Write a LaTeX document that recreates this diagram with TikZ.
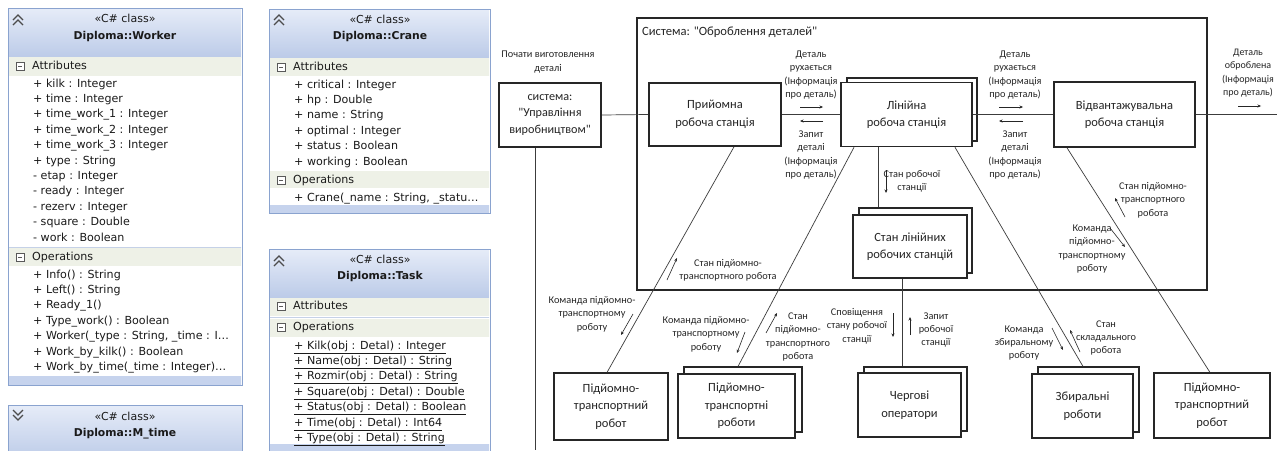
\documentclass[tikz,border=0pt]{standalone}
\usepackage{fontspec}
\setmainfont{DejaVu Sans}
\newfontfamily\dfont{Carlito}
\usetikzlibrary{arrows.meta}
\definecolor{hdrtop}{HTML}{E6ECF8}
\definecolor{hdrbot}{HTML}{BCCBE8}
\definecolor{umlborder}{HTML}{8AA3CF}
\definecolor{secrow}{HTML}{EEF1E7}
\definecolor{umlstrip}{HTML}{C6D3ED}
\definecolor{umltext}{HTML}{1A1A1A}
\definecolor{ink}{HTML}{262626}
\tikzset{
  umltxt/.style={anchor=west, inner sep=0pt, font=\fontsize{11.1}{13}\selectfont, text=umltext, text height=8pt, text depth=2pt},
  umlstereo/.style={inner sep=0pt, font=\fontsize{11}{13}\selectfont, text=umltext},
  umlname/.style={inner sep=0pt, font=\bfseries\fontsize{10.8}{13}\selectfont, text=umltext},
  umlframe/.style={draw=umlborder, line width=1pt},
  chev/.style={draw=gray!60!black, line width=1.2pt},
  minusbox/.style={draw=gray!70!black, line width=0.6pt, fill=white},
  dbox/.style={draw=ink, line width=1.6pt, fill=white, inner sep=2pt, align=center, font=\dfont\fontsize{12.5}{17.5}\selectfont, text=ink},
  dlab/.style={inner sep=0pt, align=center, font=\dfont\fontsize{10.3}{13.3}\selectfont, text=ink},
  conn/.style={draw=ink!90, line width=0.7pt},
  sarr/.style={-{Stealth[length=3.5pt,width=3pt]}, line width=0.6pt, draw=ink}
}
\begin{document}
\begin{tikzpicture}[x=1pt,y=-1pt]
\useasboundingbox (0,0) rectangle (1277,450);
\fill[white] (0,0) rectangle (1277,450);

% ================= Worker =================
\begin{scope}
\clip (8,8) rectangle (241,385);
\shade[top color=hdrtop,bottom color=hdrbot] (8,8) rectangle (242,57);
\fill[secrow] (8,57) rectangle (242,76);
\fill[secrow] (8,248) rectangle (242,266);
\fill[umlstrip] (8,376) rectangle (242,385);
\draw[umlborder!50] (8,247.5) -- (242,247.5);
\draw[chev] (13,20) -- (18,15) -- (23,20) (13,25) -- (18,20) -- (23,25);
\node[umlstereo] (wst) at (125,18) {«C\# class»};
\node[umlname] (wnm) at (125,37) {Diploma::Worker};
\draw[minusbox] (16,62) rectangle (24,70); \draw[gray!70!black] (18,66) -- (22,66);
\node[umltxt] (wah) at (32,66) {Attributes};
\foreach \t [count=\i] in {+ kilk : Integer, + time : Integer, + time\_work\_1 : Integer, + time\_work\_2 : Integer, + time\_work\_3 : Integer, + type : String, - etap : Integer, - ready : Integer, - rezerv : Integer, - square : Double, - work : Boolean}
  {\node[umltxt] (wa\i) at (33,{84+(\i-1)*15.4}) {\t};}
\draw[minusbox] (16,253) rectangle (24,261); \draw[gray!70!black] (18,257) -- (22,257);
\node[umltxt] (woh) at (32,257) {Operations};
\foreach \t [count=\i] in {+ Info() : String, + Left() : String, + Ready\_1(), + Type\_work() : Boolean, {+ Worker(\_type : String, \_time : I…}, + Work\_by\_kilk() : Boolean, {+ Work\_by\_time(\_time : Integer)…}}
  {\node[umltxt] (wo\i) at (33,{275+(\i-1)*15.4}) {\t};}
\end{scope}
\draw[umlframe] (8,8) rectangle (242,385);

% ================= M_time =================
\shade[top color=hdrtop,bottom color=hdrbot] (8,405) rectangle (242,460);
\draw[umlframe] (8,460) -- (8,405) -- (242,405) -- (242,460);
\draw[chev] (13,410) -- (18,415) -- (23,410) (13,415) -- (18,420) -- (23,415);
\node[umlstereo] (mst) at (125,416) {«C\# class»};
\node[umlname] (mnm) at (125,434) {Diploma::M\_time};

% ================= Crane =================
\begin{scope}
\clip (269,9) rectangle (489,213);
\shade[top color=hdrtop,bottom color=hdrbot] (269,9) rectangle (490,57);
\fill[secrow] (269,58) rectangle (490,76);
\fill[secrow] (269,171) rectangle (490,188);
\fill[umlstrip] (269,205) rectangle (490,213);
\draw[chev] (274,20) -- (279,15) -- (284,20) (274,25) -- (279,20) -- (284,25);
\node[umlstereo] (cst) at (380,19) {«C\# class»};
\node[umlname] (cnm) at (380,37) {Diploma::Crane};
\draw[minusbox] (277,63) rectangle (285,71); \draw[gray!70!black] (279,67) -- (283,67);
\node[umltxt] (cah) at (293,67) {Attributes};
\foreach \t [count=\i] in {+ critical : Integer, + hp : Double, + name : String, + optimal : Integer, + status : Boolean, + working : Boolean}
  {\node[umltxt] (ca\i) at (294,{85+(\i-1)*15.4}) {\t};}
\draw[minusbox] (277,176) rectangle (285,184); \draw[gray!70!black] (279,180) -- (283,180);
\node[umltxt] (coh) at (293,180) {Operations};
\node[umltxt] (co1) at (294,198) {+ Crane(\_name : String, \_statu…};
\end{scope}
\draw[umlframe] (269,9) rectangle (490,213);

% ================= Task =================
\begin{scope}
\clip (269,249) rectangle (489,460);
\shade[top color=hdrtop,bottom color=hdrbot] (269,249) rectangle (490,297);
\fill[secrow] (269,298) rectangle (490,316);
\fill[secrow] (269,319) rectangle (490,337);
\fill[umlstrip] (269,444) rectangle (490,460);
\draw[umlborder!50] (269,317.5) -- (490,317.5);
\draw[chev] (274,261) -- (279,256) -- (284,261) (274,266) -- (279,261) -- (284,266);
\node[umlstereo] (tst) at (380,259) {«C\# class»};
\node[umlname] (tnm) at (380,277) {Diploma::Task};
\draw[minusbox] (277,302) rectangle (285,310); \draw[gray!70!black] (279,306) -- (283,306);
\node[umltxt] (tah) at (293,306) {Attributes};
\draw[minusbox] (277,323) rectangle (285,331); \draw[gray!70!black] (279,327) -- (283,327);
\node[umltxt] (toh) at (293,327) {Operations};
\foreach \t [count=\i] in {+ Kilk(obj : Detal) : Integer, + Name(obj : Detal) : String, + Rozmir(obj : Detal) : String, + Square(obj : Detal) : Double, + Status(obj : Detal) : Boolean, + Time(obj : Detal) : Int64, + Type(obj : Detal) : String}
  {\node[umltxt] (to\i) at (294,{346+(\i-1)*15.4}) {\underline{\t}};}
\end{scope}
\draw[umlframe] (269,460) -- (269,249) -- (490,249) -- (490,460);

% ================= Diagram =================
\node[draw=ink, line width=2.4pt, minimum width=570pt, minimum height=272pt, inner sep=0pt] (sys) at (922,154) {};
\node[anchor=west, inner sep=0pt, font=\dfont\fontsize{12.6}{14}\selectfont, text=ink] (systitle) at (642,32) {Система: "Оброблення деталей"};

\node[dbox, minimum width=102pt, minimum height=64pt, font=\dfont\fontsize{12.2}{16.5}\selectfont] (upr) at (550,115) {система:\\"Управління\\виробництвом"};
\node[dbox, minimum width=132pt, minimum height=63pt] (pryi) at (715,114.5) {Прийомна\\робоча станція};
\node[dbox, minimum width=130pt, minimum height=63pt] (linB) at (912,109.5) {};
\node[dbox, minimum width=131pt, minimum height=64pt] (lin) at (906.5,114.5) {Лінійна\\робоча станція};
\node[dbox, minimum width=141pt, minimum height=65pt] (vidv) at (1124.5,114.5) {Відвантажувальна\\робоча станція};
\node[dbox, minimum width=113pt, minimum height=65pt] (stanB) at (915.5,240.5) {};
\node[dbox, minimum width=114pt, minimum height=63pt] (stan) at (910,246.5) {Стан лінійних\\робочих станцій};
\node[dbox, line width=1.1pt, minimum width=114pt, minimum height=67pt] (ptr1) at (611,406.5) {Підйомно-\\транспортний\\робот};
\node[dbox, line width=1.1pt, minimum width=118pt, minimum height=65pt] (ptrsB) at (743,399.5) {};
\node[dbox, line width=1.1pt, minimum width=117pt, minimum height=64pt] (ptrs) at (736.5,406) {Підйомно-\\транспортні\\роботи};
\node[dbox, minimum width=103pt, minimum height=64pt] (chergB) at (915.5,399) {};
\node[dbox, minimum width=103pt, minimum height=64pt] (cherg) at (909.5,405) {Чергові\\оператори};
\node[dbox, line width=1.1pt, minimum width=101pt, minimum height=65pt] (zbyrB) at (1088.5,399.5) {};
\node[dbox, line width=1.1pt, minimum width=101pt, minimum height=64pt] (zbyr) at (1082.5,406) {Збиральні\\роботи};
\node[dbox, line width=1.1pt, minimum width=116pt, minimum height=65pt] (ptr2) at (1212,405.5) {Підйомно-\\транспортний\\робот};

\coordinate (rend) at (1277,114.5);
\coordinate (uprend) at (535,450);

% connectors
\draw[conn] (upr.east) -- (pryi.west);
\draw[conn] (pryi.east) -- (lin.west);
\draw[conn] (lin.east) -- (vidv.west);
\draw[conn] (vidv.east) -- (rend);
\draw[conn] ([xshift=-15pt]upr.south) -- (uprend);
\draw[conn] ([xshift=19pt]pryi.south) -- ([xshift=-4pt]ptr1.north);
\draw[conn] ([xshift=-52.5pt]lin.south) -- ([xshift=-5pt]ptrsB.north);
\draw[conn] ([xshift=48.5pt]lin.south) -- ([xshift=-5.5pt]zbyrB.north);
\draw[conn] ([xshift=-57.5pt]vidv.south) -- ([xshift=-2pt]ptr2.north);
\draw[conn] ([xshift=-28.5pt]lin.south) -- ([xshift=-28.5pt]lin.south |- stanB.north);
\draw[conn] ([xshift=-8pt]stan.south) -- ([xshift=-8pt]stan.south |- chergB.north);

% labels
\node[dlab] (l1) at (548,62) {Почати виготовлення\\деталі};
\node[dlab] (l2) at (811,75) {Деталь\\рухається\\(Інформація\\про деталь)};
\node[dlab] (l3) at (811,155) {Запит\\деталі\\(Інформація\\про деталь)};
\draw[sarr] (800,107) -- (823,107);
\draw[sarr] (823,121) -- (800,121);
\node[dlab] (l4) at (1015,75) {Деталь\\рухається\\(Інформація\\про деталь)};
\node[dlab] (l5) at (1015,155) {Запит\\деталі\\(Інформація\\про деталь)};
\draw[sarr] (999,107) -- (1023,107);
\draw[sarr] (1023,121) -- (999,121);
\node[dlab, font=\dfont\fontsize{10}{13.3}\selectfont] (l6) at (1248,73) {Деталь\\оброблена\\(Інформація\\про деталь)};
\draw[sarr] (1238,106) -- (1261,106);
\node[dlab] (l7) at (912,181) {Стан робочої\\станції};
\draw[sarr] (886,170) -- (886,193);
\node[dlab] (l8) at (728,270) {Стан підйомно-\\транспортного робота};
\draw[sarr] (667,280) -- (677,258);
\node[dlab] (l9) at (592,314) {Команда підйомно-\\транспортному\\роботу};
\draw[sarr] (633,314) -- (621,335);
\node[dlab] (l10) at (706,334) {Команда підйомно-\\транспортному\\роботу};
\draw[sarr] (745,332) -- (737,353);
\node[dlab] (l11) at (798,337) {Стан\\підйомно-\\транспортного\\робота};
\draw[sarr] (766,333) -- (777,313);
\node[dlab] (l12) at (857,326) {Сповіщення\\стану робочої\\станції};
\draw[sarr] (893,313) -- (893,337);
\node[dlab] (l13) at (936,330) {Запит\\робочої\\станції};
\draw[sarr] (910,335) -- (910,317);
\node[dlab] (l14) at (1024,343) {Команда\\збиральному\\роботу};
\draw[sarr] (1052,328) -- (1063,350);
\node[dlab] (l15) at (1106,338) {Стан\\складального\\робота};
\draw[sarr] (1080,352) -- (1070,330);
\node[dlab] (l16) at (1153,200) {Стан підйомно-\\транспортного\\робота};
\draw[sarr] (1125,217) -- (1115,198);
\node[dlab] (l17) at (1092,249) {Команда\\підйомно-\\транспортному\\роботу};
\draw[sarr] (1110,228) -- (1125,247);
\end{tikzpicture}
\end{document}
